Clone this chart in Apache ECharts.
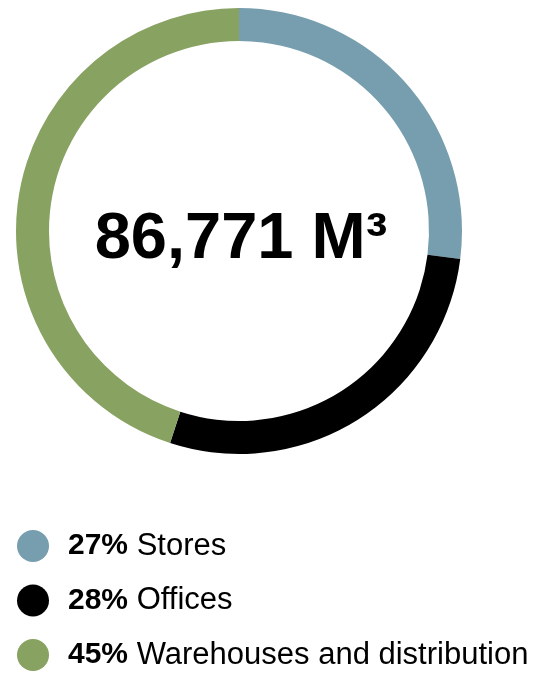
<!DOCTYPE html>
<html>
<head>
<meta charset="utf-8">
<script src="https://cdn.jsdelivr.net/npm/echarts@6/dist/echarts.min.js"></script>
<style>
  html, body { margin: 0; padding: 0; background: #fff; }
  #chart { width: 533px; height: 673px; }
</style>
</head>
<body>
<div id="chart"></div>
<script>
  // categories + shares (%)
  var names = ['Stores', 'Offices', 'Warehouses and distribution']
  var shares = [27, 28, 45]
  var colors = ['#779EAE', '#000000', '#88A262']
  var total = '86,771 M³'

  var myChart = echarts.init(document.getElementById('chart'))
  var pieData = []
  for (var i = 0; i < names.length; i++) {
    pieData.push({ name: names[i], value: shares[i], itemStyle: { color: colors[i] } })
  }

  var option = {
    animation: false,
    legend: {
      orient: 'vertical',
      left: 17,
      top: 530,
      height: 150,
      padding: 0,
      icon: 'circle',
      itemWidth: 32,
      itemHeight: 32,
      itemGap: 22.5,
      data: names,
      formatter: function (name) {
        var idx = names.indexOf(name)
        return '{b|' + shares[idx] + '%} ' + name
      },
      textStyle: {
        color: '#000',
        fontFamily: 'Liberation Sans',
        fontSize: 31,
        padding: [0, 0, 0, 14],
        rich: {
          b: { fontWeight: 'bold', fontSize: 30, fontFamily: 'Liberation Sans', color: '#000' }
        }
      }
    },
    graphic: [{
      type: 'text',
      x: 241,
      y: 240,
      style: {
        text: total,
        textAlign: 'center',
        textVerticalAlign: 'middle',
        fontFamily: 'Liberation Sans',
        fontWeight: 'bold',
        fontSize: 65,
        fill: '#000'
      }
    }],
    series: [{
      type: 'pie',
      center: [239, 231],
      radius: [190, 223],
      startAngle: 90,
      clockwise: true,
      label: { show: false },
      labelLine: { show: false },
      emphasis: { disabled: true },
      data: pieData
    }]
  }
  myChart.setOption(option)
</script>
</body>
</html>
